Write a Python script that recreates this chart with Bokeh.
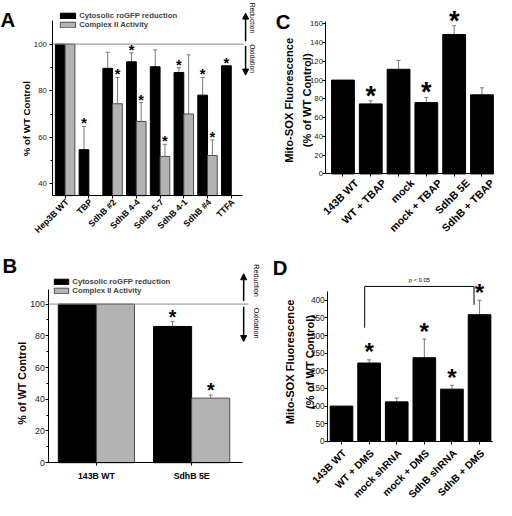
import math
from bokeh.plotting import figure
from bokeh.models import (ColumnDataSource, Whisker, TeeHead, LabelSet, Label,
                          Arrow, NormalHead, Legend, LegendItem, FixedTicker, Range1d, LinearAxis)
from bokeh.core.properties import value
from bokeh.embed import file_html
from bokeh.resources import INLINE

FONT = "Liberation Sans"
BLACK = "#000000"
GRAY_FILL = "#b3b3b3"
GRAY_LINE = "#4d4d4d"
ERR_COLOR = "#7a7a7a"
REF_LINE = "#8c8c8c"

# ---------------- data ----------------
# Panel A
a_categories = ["Hep3B WT", "TBP", "SdhB #2", "SdhB 4-4", "SdhB 5-7", "SdhB 4-1", "SdhB #4", "TTFA"]
a_rogfp = [100, 54.7, 89.6, 92.4, 90.3, 87.8, 78.1, 90.7]
a_rogfp_err = [0, 10.0, 6.9, 3.9, 7.2, 2.1, 7.6, 0]
a_rogfp_star = [0, 1, 0, 1, 0, 1, 1, 1]
a_cii = [100, None, 74.4, 66.8, 51.8, 70.0, 52.2, None]
a_cii_err = [0, None, 11.3, 8.1, 5.2, 25.4, 6.7, None]
a_cii_star = [0, 0, 1, 1, 1, 0, 1, 0]
a_yticks = [40, 60, 80, 100]
a_yminor = [50, 70, 90]
a_ylim = (35, 110)

# Panel B
b_categories = ["143B WT", "SdhB 5E"]
b_rogfp = [100, 85.9]
b_rogfp_err = [0, 3.1]
b_rogfp_star = [0, 1]
b_cii = [100, 40.7]
b_cii_err = [0, 2.0]
b_cii_star = [0, 1]
b_yticks = [0, 20, 40, 60, 80, 100]
b_yminor = [10, 30, 50, 70, 90]
b_ylim = (0, 109.3)

# Panel C
c_categories = ["143B WT", "WT + TBAP", "mock", "mock + TBAP", "SdhB 5E", "SdhB + TBAP"]
c_values = [100, 74.6, 111.5, 76.0, 148.6, 84.3]
c_err = [0, 3.4, 9.5, 5.5, 9.4, 7.5]
c_star = [0, 1, 0, 1, 1, 0]
c_yticks = [0, 20, 40, 60, 80, 100, 120, 140, 160]
c_yminor = []
c_ylim = (0, 162)

# Panel D
d_categories = ["143B WT", "WT + DMS", "mock shRNA", "mock + DMS", "SdhB shRNA", "SdhB + DMS"]
d_values = [100, 222, 112, 237, 148, 359]
d_err = [0, 9, 11, 53, 11, 41]
d_star = [0, 1, 0, 1, 1, 1]
d_yticks = [0, 50, 100, 150, 200, 250, 300, 350, 400]
d_yminor = []
d_ylim = (0, 425)
d_ptext = "p < 0.05"
d_bracket_x = [0.84, 0.84, 4.8, 4.8]
d_bracket_y = [322, 439, 439, 387]

# ---------------- canvas / layout geometry ----------------
W, H = 496, 500          # drawn size (fits the 512x516 window with its 8px margin)
REF_W, REF_H = 512, 516  # reference picture size; layout positions below are given in it
FS = W / REF_W


def fpx(n):
    return f"{n * FS:.2f}px"


def Y(py):
    # page y (downwards) -> default range y (upwards)
    return REF_H - py


def x_range_from(v0, p0, v1, p1, shift_px=0.0):
    k = (v1 - v0) / (p1 - p0)
    p0 = p0 + shift_px
    return Range1d(v0 + k * (0 - p0), v0 + k * (REF_W - p0))


def y_range_from(v0, p0, v1, p1):
    k = (v1 - v0) / (p1 - p0)
    return Range1d(v0 + k * (REF_H - p0), v0 + k * (0 - p0))


p = figure(width=W, height=H, x_range=Range1d(0, REF_W), y_range=Range1d(0, REF_H),
           x_axis_type=None, y_axis_type=None, output_backend="svg", toolbar_location=None,
           min_border=0, title=None)
p.outline_line_color = None
p.background_fill_color = "white"
p.border_fill_color = "white"

# panel scales: (value, pixel) anchor pairs; "*l" ranges carry the slanted category labels
A_X = (0, 66.7, 7, 238.2)
B_X = (0, 99.0, 1, 197.3)
C_X = (0, 353.5, 5, 497.0)
D_X = (0, 352.0, 5, 494.5)
p.extra_x_ranges = {
    "ax": x_range_from(*A_X), "axl": x_range_from(*A_X, shift_px=2),
    "bx": x_range_from(*B_X),
    "cx": x_range_from(*C_X), "cxl": x_range_from(*C_X, shift_px=14),
    "dx": x_range_from(*D_X), "dxl": x_range_from(*D_X, shift_px=3),
}
p.extra_y_ranges = {
    "ay": y_range_from(40, 189.3, 100, 45.0),
    "by": y_range_from(0, 477.0, 100, 313.3),
    "cy": y_range_from(0, 179.0, 160, 24.0),
    "dy": y_range_from(0, 455.0, 400, 309.3),
}
# axis extents in data units
a_xlim = (-0.52, 7.48)
b_xlim = (-0.5, 1.535)
c_xlim = (-0.61, 5.38)
d_xlim = (-0.5, 5.48)


# ---------------- helpers ----------------
def add_axes(xn, yn, xlim, ylim, nx, yticks, yminor, ysize, ystand):
    yax = LinearAxis(x_range_name=xn, y_range_name=yn, fixed_location=xlim[0], bounds=ylim,
                     ticker=FixedTicker(ticks=yticks, minor_ticks=yminor))
    xax = LinearAxis(x_range_name=xn, y_range_name=yn, fixed_location=ylim[0], bounds=xlim,
                     ticker=FixedTicker(ticks=list(range(nx)), minor_ticks=[]))
    for ax in (yax, xax):
        ax.axis_line_color = "black"
        ax.axis_line_width = 1
        ax.major_tick_line_color = "black"
        ax.major_tick_in = 0
        ax.major_tick_out = 3
        ax.minor_tick_line_color = "black"
        ax.minor_tick_in = 0
        ax.minor_tick_out = 2
        ax.major_label_text_font = FONT
        ax.major_label_text_color = "#222222"
    yax.major_label_text_font_size = ysize
    yax.major_label_standoff = ystand
    xax.major_label_text_color = None
    xax.major_label_text_font_size = fpx(8)
    p.add_layout(yax, "left")
    p.add_layout(xax, "below")
    return xax, yax


def add_label_axis(xn, yn, cats, y0, size, standoff):
    lax = LinearAxis(x_range_name=xn, y_range_name=yn, fixed_location=y0,
                     ticker=FixedTicker(ticks=list(range(len(cats))), minor_ticks=[]),
                     major_label_overrides={i: c for i, c in enumerate(cats)},
                     major_label_orientation=math.pi / 4,
                     axis_line_color=None, major_tick_line_color=None,
                     minor_tick_line_color=None, major_tick_out=0, major_tick_in=0,
                     minor_tick_out=0, minor_tick_in=0, major_label_standoff=standoff,
                     major_label_text_font=FONT, major_label_text_font_size=fpx(size),
                     major_label_text_font_style="bold", major_label_text_color="black")
    p.add_layout(lax, "below")


def bars(xn, yn, xs, tops, base, width, fill, line):
    rows = [(x, t) for x, t in zip(xs, tops) if t is not None]
    return p.vbar(x=[r[0] for r in rows], top=[r[1] for r in rows], bottom=base, width=width,
                  fill_color=fill, line_color=line, line_width=1,
                  x_range_name=xn, y_range_name=yn)


def add_err(xn, yn, xs, tops, errs, head=4):
    rows = [(x, t, t + e) for x, t, e in zip(xs, tops, errs) if t is not None and e]
    src = ColumnDataSource(dict(x=[r[0] for r in rows], top=[r[1] for r in rows],
                                hi=[r[2] for r in rows]))
    p.add_layout(Whisker(source=src, base="x", lower="top", upper="hi", dimension="height",
                         x_range_name=xn, y_range_name=yn,
                         line_color=ERR_COLOR, line_width=1,
                         upper_head=TeeHead(size=head, line_color=ERR_COLOR, line_width=1),
                         lower_head=None))


def add_stars(xn, yn, xs, tops, errs, flags, size, yoff):
    sx, sy = [], []
    for x, t, e, f in zip(xs, tops, errs, flags):
        if f and t is not None:
            sx.append(x)
            sy.append(t + (e or 0))
    src = ColumnDataSource(dict(x=sx, y=sy, t=["*"] * len(sx)))
    p.add_layout(LabelSet(x="x", y="y", text="t", source=src, y_offset=yoff,
                          x_range_name=xn, y_range_name=yn,
                          text_font=value(FONT), text_font_size=fpx(size), text_font_style="bold",
                          text_align="center", text_baseline="alphabetic", text_color="black"))


def label(px, py, text, size, bold=False, angle=0.0, align="center", baseline="middle"):
    p.add_layout(Label(x=px, y=Y(py), text=text, angle=angle, text_font=FONT,
                       text_font_size=fpx(size),
                       text_font_style="bold" if bold else "normal", text_align=align,
                       text_baseline=baseline, text_color="black"))


def arrow(px0, py0, px1, py1):
    p.add_layout(Arrow(x_start=px0, y_start=Y(py0), x_end=px1, y_end=Y(py1), line_color="black",
                       line_width=1.5,
                       end=NormalHead(size=6, fill_color="black", line_color="black", line_width=1)))


def legend(r_black, r_gray, left, bottom, gw):
    lg = Legend(items=[LegendItem(label="Cytosolic roGFP reduction", renderers=[r_black]),
                       LegendItem(label="Complex II Activity", renderers=[r_gray])],
                location=(left * FS, H - bottom * H / REF_H), orientation="vertical",
                glyph_width=gw, glyph_height=7, label_height=8, spacing=0, padding=0, margin=0,
                label_standoff=2, label_text_font=FONT, label_text_font_size=fpx(8),
                label_text_font_style="bold", border_line_color=None, background_fill_alpha=0)
    p.add_layout(lg)


# ---------------- Panel A ----------------
na = len(a_categories)
xa_black = [i - 0.205 for i in range(na)]
xa_gray = [i + 0.205 for i in range(na)]
rA1 = bars("ax", "ay", xa_black, a_rogfp, a_ylim[0], 0.41, BLACK, BLACK)
rA2 = bars("ax", "ay", xa_gray, a_cii, a_ylim[0], 0.41, GRAY_FILL, GRAY_LINE)
p.segment(x0=[a_xlim[0]], x1=[a_xlim[1] + 0.05], y0=[100], y1=[100], line_color=REF_LINE,
          line_width=1, x_range_name="ax", y_range_name="ay")
add_err("ax", "ay", xa_black, a_rogfp, a_rogfp_err)
add_err("ax", "ay", xa_gray, a_cii, a_cii_err)
add_stars("ax", "ay", xa_black, a_rogfp, a_rogfp_err, a_rogfp_star, 15, -2)
add_stars("ax", "ay", xa_gray, a_cii, a_cii_err, a_cii_star, 15, -2)
add_axes("ax", "ay", a_xlim, a_ylim, na, a_yticks, a_yminor, fpx(8), 3)
add_label_axis("axl", "ay", a_categories, a_ylim[0], 9, 5)
legend(rA1, rA2, 60, 30, 19)
label(0, 20, "A", 21, bold=True, align="left", baseline="alphabetic")
label(26.7, 122, "% of WT Control", 10, bold=True, angle=math.pi / 2)
arrow(253, 42, 253, 13)
arrow(253, 47, 253, 77)
label(260, 18, "Reduction", 7, angle=-math.pi / 2)
label(260, 60, "Oxidation", 7, angle=-math.pi / 2)

# ---------------- Panel B ----------------
nb = len(b_categories)
xb_black = [i - 0.2 for i in range(nb)]
xb_gray = [i + 0.2 for i in range(nb)]
rB1 = bars("bx", "by", xb_black, b_rogfp, b_ylim[0], 0.4, BLACK, BLACK)
rB2 = bars("bx", "by", xb_gray, b_cii, b_ylim[0], 0.4, GRAY_FILL, GRAY_LINE)
p.segment(x0=[b_xlim[0]], x1=[b_xlim[1] + 0.06], y0=[100], y1=[100], line_color=REF_LINE,
          line_width=1, x_range_name="bx", y_range_name="by")
add_err("bx", "by", xb_black, b_rogfp, b_rogfp_err)
add_err("bx", "by", xb_gray, b_cii, b_cii_err)
add_stars("bx", "by", xb_black, b_rogfp, b_rogfp_err, b_rogfp_star, 20, -2.5)
add_stars("bx", "by", xb_gray, b_cii, b_cii_err, b_cii_star, 20, -2.5)
bxax, byax = add_axes("bx", "by", b_xlim, b_ylim, nb, b_yticks, b_yminor, fpx(9), 1)
bxax.major_label_overrides = {i: c for i, c in enumerate(b_categories)}
bxax.major_label_text_color = "black"
bxax.major_label_text_font_style = "bold"
bxax.major_label_text_font_size = fpx(9)
bxax.major_label_standoff = 5
legend(rB1, rB2, 54, 304, 18)
label(2, 274, "B", 21, bold=True, align="left", baseline="alphabetic")
label(21.7, 395, "% of WT Control", 11, bold=True, angle=math.pi / 2)
arrow(251, 310, 251, 282)
arrow(251, 316, 251, 352)
label(264, 289, "Reduction", 7.5, angle=-math.pi / 2)
label(264, 333, "Oxidation", 7.5, angle=-math.pi / 2)

# ---------------- Panel C ----------------
nc = len(c_categories)
xc = list(range(nc))
bars("cx", "cy", xc, c_values, c_ylim[0], 0.82, BLACK, BLACK)
add_err("cx", "cy", xc, c_values, c_err)
add_stars("cx", "cy", xc, c_values, c_err, c_star, 28, -4)
add_axes("cx", "cy", c_xlim, c_ylim, nc, c_yticks, c_yminor, fpx(8), 0)
add_label_axis("cxl", "cy", c_categories, c_ylim[0], 11, 7)
label(284, 22, "C", 21, bold=True, align="left", baseline="alphabetic")
label(297.7, 103, "Mito-SOX Fluorescence", 11.5, bold=True, angle=math.pi / 2)
label(316, 103, "(% of WT Control)", 11.5, bold=True, angle=math.pi / 2)

# ---------------- Panel D ----------------
nd = len(d_categories)
xd = list(range(nd))
bars("dx", "dy", xd, d_values, d_ylim[0], 0.82, BLACK, BLACK)
add_err("dx", "dy", xd, d_values, d_err)
add_stars("dx", "dy", xd, d_values, d_err, d_star, 25, -0.5)
add_axes("dx", "dy", d_xlim, d_ylim, nd, d_yticks, d_yminor, fpx(8.5), 0)
add_label_axis("dxl", "dy", d_categories, d_ylim[0], 10.5, 10)
label(281, 276, "D", 21, bold=True, align="left", baseline="alphabetic")
label(299.3, 373, "Mito-SOX Fluorescence", 11.5, bold=True, angle=math.pi / 2)
label(319, 373, "(% of WT Control)", 11.5, bold=True, angle=math.pi / 2)
p.line(x=d_bracket_x, y=d_bracket_y, line_color="black", line_width=1,
       x_range_name="dx", y_range_name="dy")
p.add_layout(Label(x=sum(d_bracket_x) / 4, y=max(d_bracket_y), y_offset=3, text=d_ptext,
                   x_range_name="dx", y_range_name="dy",
                   text_font=FONT, text_font_size=fpx(6), text_align="center",
                   text_baseline="bottom", text_color="black"))

open("out.html", "w").write(file_html(p, INLINE))
